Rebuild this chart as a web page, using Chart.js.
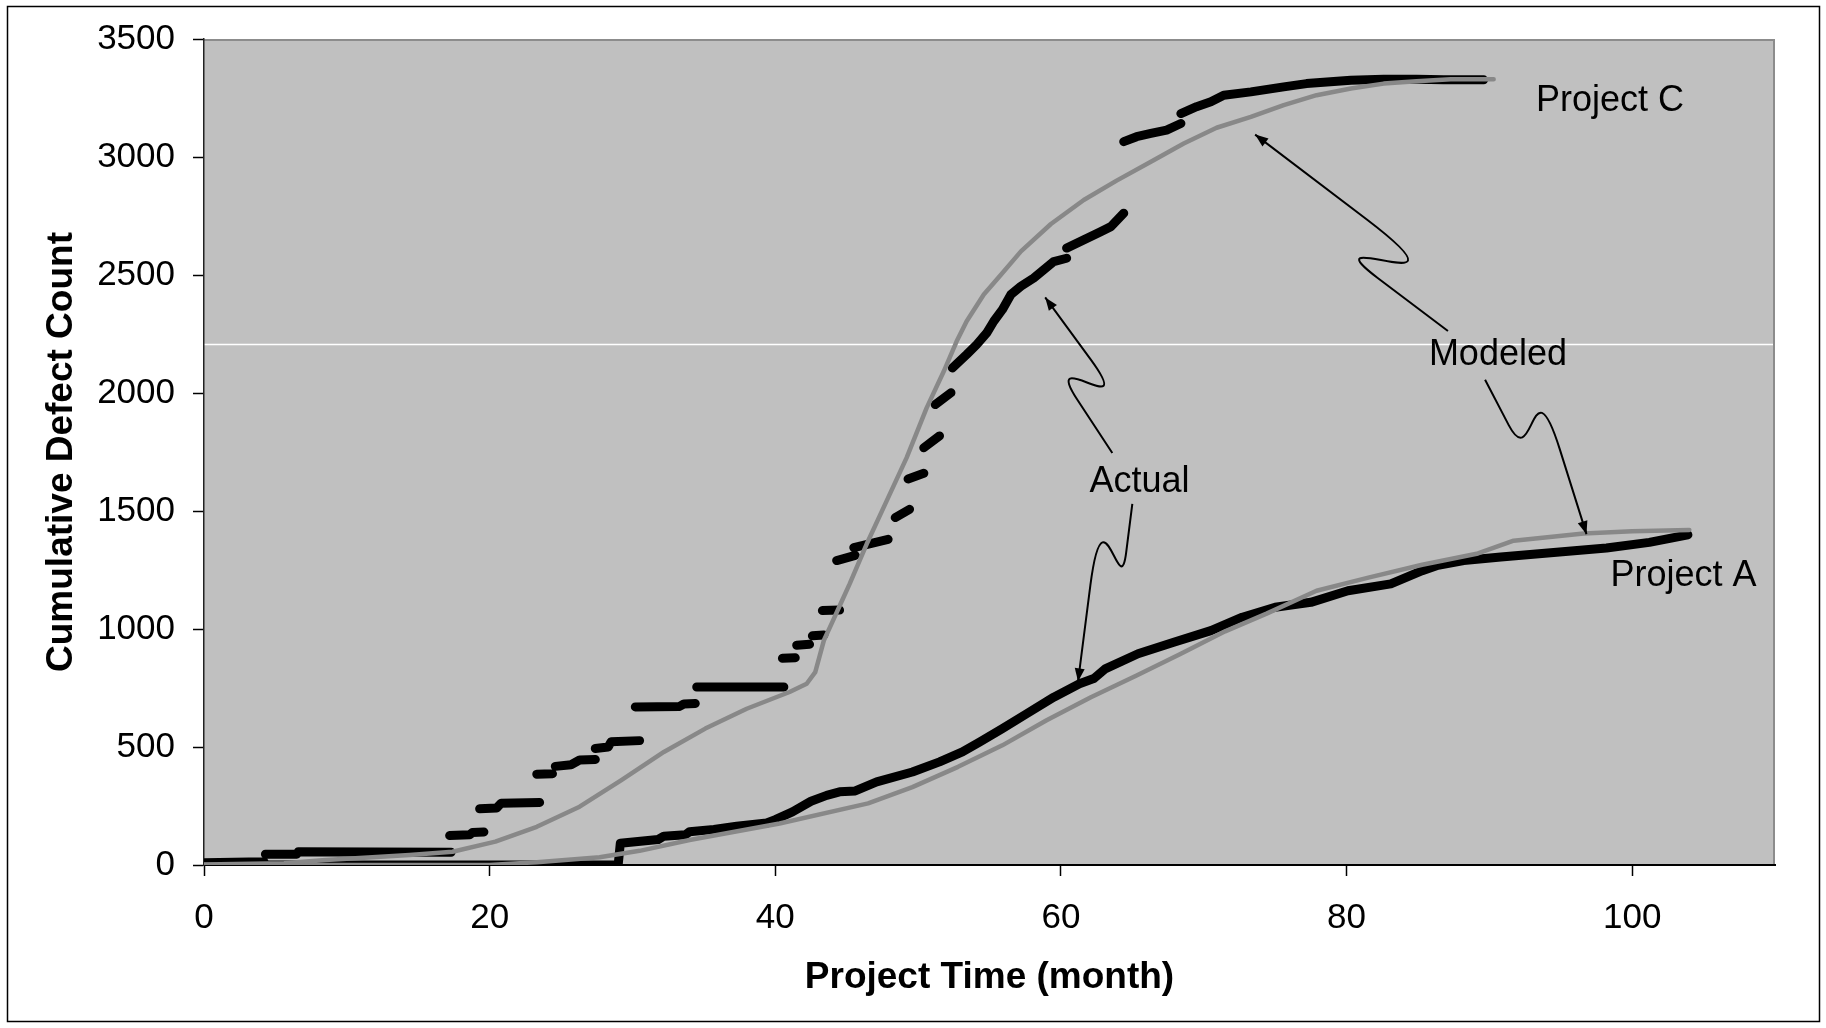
<!DOCTYPE html>
<html>
<head>
<meta charset="utf-8">
<title>Cumulative Defect Count</title>
<script src="https://cdn.jsdelivr.net/npm/chart.js@4.4.1/dist/chart.umd.min.js"></script>
<style>
  html, body { margin: 0; padding: 0; background: #fff; }
  canvas { display: block; }
</style>
</head>
<body>
<canvas id="defectChart" width="1826" height="1028"></canvas>
<script>
// axis ticks
var monthTicks = [0, 20, 40, 60, 80, 100];
var countTicks = [0, 500, 1000, 1500, 2000, 2500, 3000, 3500];

// Project C, actual (null = gap between runs)
var cActualMonth = [
    0, 4.2, null,
    4.3, 6.5, null,
    6.6, 17.3, null,
    17.2, 18.6, 18.8, 19.6, null,
    19.3, 20.5, 20.8, 23.5, null,
    23.3, 24.4, null,
    24.6, 25.7, 26.3, 27.4, null,
    27.4, 28.3, 28.5, 30.5, null,
    30.2, 33.3, 33.6, 34.4, null,
    34.5, 40.6, null,
    40.5, 41.4, null,
    41.5, 42.4, null,
    42.6, 43.4, null,
    43.3, 44.5, null,
    44.3, 45.6, null,
    45.5, 47.9, null,
    48.4, 49.4, null,
    49.3, 50.4, null,
    50.4, 51.5, null,
    51.2, 52.3, null,
    52.4, 53.4, 54.1, 54.8, 55.3, 55.9, 56.5, 57.2, 58.1, 58.8, 59.5, 60.4, null,
    60.4, 61.6, 62.8, 63.5, 64.4, null,
    64.4, 65.3, 66.3, 67.4, 68.4, null,
    68.4, 69.5, 70.5, 71.4, 73.3, 75.6, 77.2, 80.3, 82.6, 84.9, 86.8, 89.6
];
var cActualCount = [
    10, 14, null,
    46, 46, null,
    56, 54, null,
    125, 128, 138, 140, null,
    238, 242, 262, 265, null,
    385, 387, null,
    418, 425, 445, 447, null,
    494, 500, 522, 527, null,
    670, 672, 682, 684, null,
    754, 754, null,
    876, 878, null,
    931, 935, null,
    971, 975, null,
    1078, 1080, null,
    1290, 1312, null,
    1345, 1380, null,
    1472, 1507, null,
    1636, 1660, null,
    1768, 1818, null,
    1951, 2001, null,
    2106, 2163, 2205, 2254, 2304, 2353, 2417, 2452, 2487, 2522, 2557, 2571, null,
    2614, 2649, 2684, 2705, 2762, null,
    3065, 3086, 3100, 3114, 3142, null,
    3184, 3213, 3234, 3262, 3276, 3297, 3311, 3325, 3329, 3329, 3327, 3327
];

// Project C, modeled
var cModelMonth = [0, 5.6, 8.5, 11.5, 14.4, 17.4, 20.4, 23.3, 26.3, 29.2, 32.2, 35.1, 38.0, 41.0, 42.2, 42.8,
    43.4, 44.0, 44.6, 45.2, 46.4, 47.8, 49.2, 50.6, 51.8, 52.7, 53.4, 54.6, 55.8, 57.2, 59.3, 61.6, 63.9,
    66.3, 68.6, 70.9, 73.3, 75.6, 77.9, 80.3, 82.6, 84.9, 87.3, 90.3];
var cModelCount = [2, 7, 21, 32, 42, 56, 99, 162, 247, 359, 479, 578, 662, 733, 768, 817,
    951, 1030, 1110, 1190, 1360, 1543, 1726, 1937, 2092, 2219, 2304, 2417, 2501, 2600, 2716, 2818, 2900,
    2980, 3057, 3124, 3170, 3220, 3262, 3290, 3311, 3321, 3329, 3329];

// Project A, actual
var aActualMonth = [0, 29.0, 29.15, 31.8, 32.2, 33.7, 34.0, 35.7, 37.3, 39.4, 40.0, 41.2, 42.5, 43.6, 44.5,
    45.6, 47.1, 49.6, 51.5, 53.1, 54.3, 55.9, 57.6, 59.5, 61.3, 62.3, 63.1, 65.4, 67.9, 70.5, 72.7, 75.0,
    77.5, 80.1, 83.1, 85.3, 86.4, 88.2, 90.8, 94.5, 98.2, 101.2, 103.9];
var aActualCount = [0, 0, 92, 108, 122, 128, 141, 151, 164, 178, 192, 225, 270, 295, 310,
    314, 352, 394, 437, 479, 521, 578, 641, 711, 768, 790, 831, 895, 944, 993, 1050, 1092,
    1113, 1162, 1191, 1247, 1270, 1290, 1305, 1324, 1343, 1367, 1399];

// Project A, modeled
var aModelMonth = [0, 20, 23.3, 27.7, 30.5, 34.0, 40.3, 46.5, 49.6, 52.8, 55.9, 59.0, 62.1, 65.3, 68.4,
    71.5, 74.4, 77.9, 81.6, 85.3, 89.2, 91.7, 96.6, 100, 104];
var aModelCount = [0, 0, 12, 33, 60, 106, 176, 261, 330, 416, 507, 613, 711, 803, 895,
    990, 1065, 1162, 1219, 1272, 1320, 1374, 1405, 1414, 1420];

// stray light rule that crosses the plot
var ruleCount = 2205;

// callout texts and connector paths (start, bend, bend, arrow tip) in data units
var calloutTexts = [
    { text: 'Project C', at: [98.45, 3238] },
    { text: 'Modeled', at: [90.6, 2160] },
    { text: 'Actual', at: [65.5, 1623] },
    { text: 'Project A', at: [103.6, 1225] }
];
var calloutPaths = [
    [[63.6, 1746], [60.2, 2059], [63.3, 2042], [58.9, 2405]],
    [[65.0, 1530], [64.4, 1243], [62.4, 1344], [61.2, 778]],
    [[87.1, 2263], [80.3, 2573], [84.4, 2598], [73.6, 3095]],
    [[89.7, 2056], [92.0, 1789], [94.2, 1902], [96.8, 1402]]
];

function toPoints(xs, ys) {
    var out = [];
    var lastX = 0;
    for (var i = 0; i < xs.length; i++) {
        if (ys[i] === null) {
            out.push({ x: lastX, y: null });
        } else {
            lastX = xs[i];
            out.push({ x: xs[i], y: ys[i] });
        }
    }
    return out;
}

function lerp(p, q, t) {
    return { x: p.x + (q.x - p.x) * t, y: p.y + (q.y - p.y) * t };
}

var backdropPlugin = {
    id: 'backdrop',
    beforeDraw: function (chart) {
        var ctx = chart.ctx, area = chart.chartArea;
        ctx.save();
        ctx.fillStyle = '#ffffff';
        ctx.fillRect(0, 0, chart.width, chart.height);
        ctx.strokeStyle = '#000000';
        ctx.lineWidth = 1.5;
        ctx.strokeRect(7.5, 6.5, 1812, 1015);
        ctx.fillStyle = '#c0c0c0';
        ctx.fillRect(area.left, area.top, area.right - area.left, area.bottom - area.top);
        ctx.strokeStyle = '#8c8c8c';
        ctx.lineWidth = 2;
        ctx.beginPath();
        ctx.moveTo(area.left, area.top + 1);
        ctx.lineTo(area.right - 1, area.top + 1);
        ctx.lineTo(area.right - 1, area.bottom);
        ctx.stroke();
        var ry = chart.scales.y.getPixelForValue(ruleCount);
        ctx.strokeStyle = '#ffffff';
        ctx.lineWidth = 1.5;
        ctx.beginPath();
        ctx.moveTo(area.left, ry);
        ctx.lineTo(area.right - 2, ry);
        ctx.stroke();
        ctx.restore();
    }
};

var calloutPlugin = {
    id: 'callouts',
    afterDatasetsDraw: function (chart) {
        var ctx = chart.ctx, xs = chart.scales.x, ys = chart.scales.y;
        function px(p) { return { x: xs.getPixelForValue(p[0]), y: ys.getPixelForValue(p[1]) }; }
        ctx.save();
        ctx.strokeStyle = '#000';
        ctx.fillStyle = '#000';
        ctx.lineWidth = 2;
        ctx.lineJoin = 'round';
        calloutPaths.forEach(function (path) {
            var s = px(path[0]), a = px(path[1]), b = px(path[2]), t = px(path[3]);
            var p1 = lerp(s, a, 0.72);
            var q2 = lerp(b, t, 0.28);
            var c1 = lerp(s, a, 1.5);
            var c2 = lerp(t, b, 1.5);
            ctx.beginPath();
            ctx.moveTo(s.x, s.y);
            ctx.lineTo(p1.x, p1.y);
            ctx.bezierCurveTo(c1.x, c1.y, c2.x, c2.y, q2.x, q2.y);
            ctx.lineTo(t.x, t.y);
            ctx.stroke();
            // arrow head
            var ang = Math.atan2(t.y - q2.y, t.x - q2.x);
            var len = 13, half = 5;
            ctx.beginPath();
            ctx.moveTo(t.x, t.y);
            ctx.lineTo(t.x - len * Math.cos(ang) + half * Math.sin(ang), t.y - len * Math.sin(ang) - half * Math.cos(ang));
            ctx.lineTo(t.x - len * Math.cos(ang) - half * Math.sin(ang), t.y - len * Math.sin(ang) + half * Math.cos(ang));
            ctx.closePath();
            ctx.fill();
        });
        ctx.font = "36px 'Liberation Sans', Arial, sans-serif";
        ctx.textAlign = 'center';
        ctx.textBaseline = 'middle';
        calloutTexts.forEach(function (c) {
            var p = px(c.at);
            ctx.fillText(c.text, p.x, p.y);
        });
        ctx.restore();
    }
};

Chart.defaults.font.family = "'Liberation Sans', Arial, Helvetica, sans-serif";
Chart.defaults.color = '#000';

var ctx = document.getElementById('defectChart').getContext('2d');
var defectChart = new Chart(ctx, {
    type: 'scatter',
    data: {
        datasets: [{
            label: 'Project C modeled',
            data: toPoints(cModelMonth, cModelCount),
            borderColor: '#888888',
            borderWidth: 4.5,
            order: 1
        }, {
            label: 'Project A modeled',
            data: toPoints(aModelMonth, aModelCount),
            borderColor: '#888888',
            borderWidth: 4.5,
            order: 2
        }, {
            label: 'Project C actual',
            data: toPoints(cActualMonth, cActualCount),
            borderColor: '#000000',
            borderWidth: 9,
            order: 3
        }, {
            label: 'Project A actual',
            data: toPoints(aActualMonth, aActualCount),
            borderColor: '#000000',
            borderWidth: 9,
            order: 4
        }]
    },
    options: {
        responsive: false,
        devicePixelRatio: 1,
        animation: false,
        showLine: true,
        spanGaps: false,
        elements: {
            point: { radius: 0, hoverRadius: 0 },
            line: { tension: 0, borderCapStyle: 'round', borderJoinStyle: 'round', fill: false }
        },
        layout: { padding: { left: 0, top: 36, right: 51, bottom: 0 } },
        plugins: {
            legend: { display: false },
            tooltip: { enabled: false }
        },
        scales: {
            x: {
                type: 'linear',
                min: 0,
                max: 110,
                afterBuildTicks: function (axis) {
                    axis.ticks = monthTicks.map(function (v) { return { value: v }; });
                },
                afterFit: function (axis) { axis.height = 163; },
                grid: { drawOnChartArea: false, drawTicks: true, tickLength: 11, tickColor: '#000', tickWidth: 1.5 },
                border: { display: true, color: '#000', width: 2 },
                ticks: {
                    font: { size: 35 }, padding: 21, maxRotation: 0, autoSkip: false,
                    callback: function (v) { return String(v); }
                },
                title: {
                    display: true,
                    text: 'Project Time (month)',
                    font: { size: 37, weight: 'bold' },
                    padding: { top: 0, bottom: 28 }
                }
            },
            y: {
                type: 'linear',
                min: 0,
                max: 3500,
                afterBuildTicks: function (axis) {
                    axis.ticks = countTicks.map(function (v) { return { value: v }; });
                },
                afterFit: function (axis) { axis.width = 204; },
                grid: { drawOnChartArea: false, drawTicks: true, tickLength: 11, tickColor: '#000', tickWidth: 1.5 },
                border: { display: true, color: '#222', width: 1.5 },
                ticks: {
                    font: { size: 35 }, padding: 18, autoSkip: false,
                    callback: function (v) { return String(v); }
                },
                title: {
                    display: true,
                    text: 'Cumulative Defect Count',
                    font: { size: 37, weight: 'bold' },
                    padding: { top: 40, bottom: 0 }
                }
            }
        }
    },
    plugins: [backdropPlugin, calloutPlugin]
});
</script>
</body>
</html>
